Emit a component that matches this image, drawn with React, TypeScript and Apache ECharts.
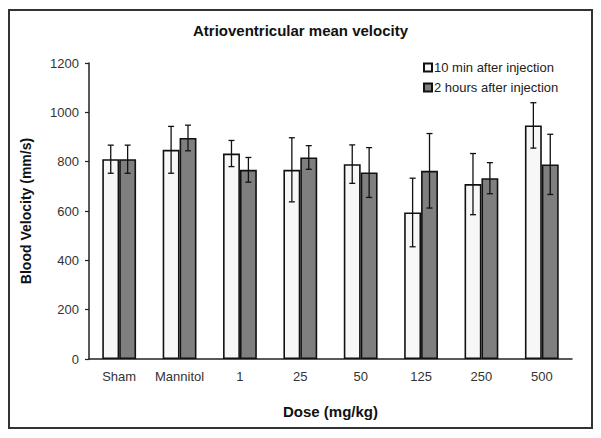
import React, { useEffect, useRef } from "react";
import * as echarts from "echarts";

const categories = ["Sham", "Mannitol", "1", "25", "50", "125", "250", "500"];
const seriesNames = ["10 min after injection", "2 hours after injection"];
const tenMinValues = [810, 848, 833, 767, 790, 594, 709, 947];
const tenMinErrors = [57, 95, 53, 130, 78, 139, 124, 92];
const twoHourValues = [810, 896, 767, 817, 756, 763, 733, 789];
const twoHourErrors = [57, 52, 50, 48, 101, 151, 63, 122];

const FONT = "'Liberation Sans', Arial, sans-serif";
const CAT_GAP = 0.44;

function errorSeries(values: number[], errors: number[], side: number) {
  return {
    type: "custom",
    z: 10,
    silent: true,
    data: values.map((v, i) => [i, v - errors[i], v + errors[i]]),
    renderItem: (params: any, api: any) => {
      const catW = api.size([1, 0])[0];
      const barW = (catW * (1 - CAT_GAP)) / 2;
      const cx = api.coord([api.value(0), 0])[0] + side * barW / 2;
      const lo = api.coord([api.value(0), api.value(1)])[1];
      const hi = api.coord([api.value(0), api.value(2)])[1];
      const cap = 3;
      const style = { stroke: "#111", lineWidth: 1.3, fill: null };
      return {
        type: "group",
        children: [
          { type: "line", shape: { x1: cx, y1: lo, x2: cx, y2: hi }, style },
          { type: "line", shape: { x1: cx - cap, y1: lo, x2: cx + cap, y2: lo }, style },
          { type: "line", shape: { x1: cx - cap, y1: hi, x2: cx + cap, y2: hi }, style },
        ],
      };
    },
  };
}

export default function App() {
  const ref = useRef<HTMLDivElement>(null);
  useEffect(() => {
    if (!ref.current) return;
    const chart = echarts.init(ref.current, undefined, { renderer: "svg" });
    chart.setOption({
      animation: false,
      backgroundColor: "#ffffff",
      textStyle: { fontFamily: FONT },
      title: {
        text: "Atrioventricular mean velocity",
        left: "center",
        top: 18,
        textStyle: { fontFamily: FONT, fontSize: 15, fontWeight: "bold", color: "#111" },
      },
      legend: {
        orient: "vertical",
        left: 418,
        top: 56,
        itemWidth: 8,
        itemHeight: 8,
        itemGap: 7,
        icon: "rect",
        data: seriesNames,
        textStyle: { fontFamily: FONT, fontSize: 13, color: "#222", padding: [0, 0, 0, -3] },
      },
      graphic: [
        {
          type: "rect",
          shape: { x: 9, y: 10, width: 583, height: 418 },
          style: { fill: null, stroke: "#333", lineWidth: 2 },
          silent: true,
        },
      ],
      grid: { left: 89, right: 29, top: 63, bottom: 79 },
      xAxis: {
        type: "category",
        data: categories,
        axisLine: { show: true, lineStyle: { color: "#222", width: 1.5 } },
        axisTick: { show: false },
        axisLabel: { fontFamily: FONT, fontSize: 13, color: "#333", margin: 11, interval: 0, hideOverlap: false },
        name: "Dose (mg/kg)",
        nameLocation: "middle",
        nameGap: 45,
        nameTextStyle: { fontFamily: FONT, fontSize: 15, fontWeight: "bold", color: "#111" },
      },
      yAxis: {
        type: "value",
        min: 0,
        max: 1200,
        interval: 200,
        axisLine: { show: true, lineStyle: { color: "#222", width: 1.5 } },
        axisTick: { show: true, length: 4, lineStyle: { color: "#222", width: 1.2 } },
        splitLine: { show: false },
        axisLabel: {
          fontFamily: FONT,
          fontSize: 13,
          color: "#333",
          margin: 10,
          formatter: (v: number) => String(v),
        },
        name: "Blood Velocity (mm/s)",
        nameLocation: "middle",
        nameGap: 56,
        nameTextStyle: { fontFamily: FONT, fontSize: 14, fontWeight: "bold", color: "#111" },
      },
      series: [
        {
          name: seriesNames[0],
          type: "bar",
          data: tenMinValues,
          barGap: "0%",
          barCategoryGap: CAT_GAP * 100 + "%",
          itemStyle: { color: "#f7f7f7", borderColor: "#111", borderWidth: 1.6 },
        },
        {
          name: seriesNames[1],
          type: "bar",
          data: twoHourValues,
          barGap: "0%",
          barCategoryGap: CAT_GAP * 100 + "%",
          itemStyle: { color: "#7f7f7f", borderColor: "#111", borderWidth: 1.6 },
        },
        errorSeries(tenMinValues, tenMinErrors, -1),
        errorSeries(twoHourValues, twoHourErrors, 1),
      ],
    });
    return () => chart.dispose();
  }, []);
  return (
    <div
      ref={ref}
      style={{ position: "fixed", left: 0, top: 0, width: 601, height: 438 }}
    />
  );
}
